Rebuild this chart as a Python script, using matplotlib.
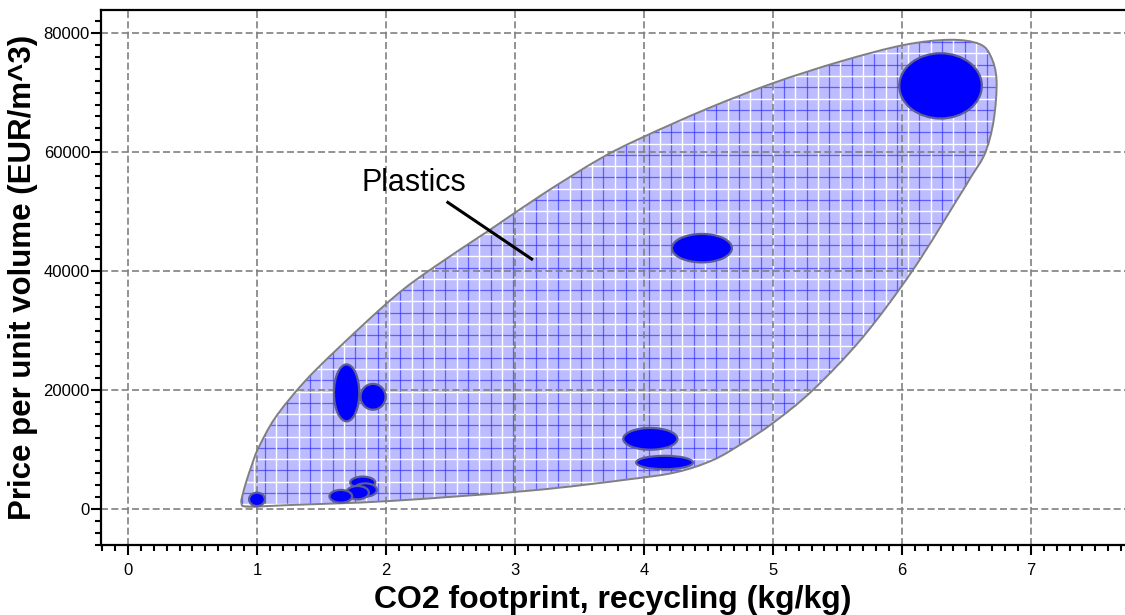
import matplotlib
matplotlib.use("Agg")
import matplotlib.pyplot as plt
import numpy as np
from matplotlib.patches import PathPatch, Ellipse
from matplotlib.path import Path
from matplotlib.ticker import MultipleLocator

plt.rcParams["font.family"] = ["Liberation Sans", "DejaVu Sans"]

# ---- data ----
# envelope outline for the "Plastics" family (x = CO2 kg/kg, y = EUR/m^3)
env_x = [0.88, 0.89, 0.92, 0.96, 1.01, 1.14, 1.36, 1.62, 2.06, 2.37, 2.81,
         3.22, 3.66, 3.97, 4.49, 5.00, 5.52, 6.01, 6.37, 6.60, 6.69, 6.734,
         6.712, 6.645, 6.535, 6.426, 6.085, 5.698, 5.31, 5.00, 4.767, 4.535,
         4.256, 3.89, 3.12, 2.03, 1.26, 0.93]
env_y = [1000, 2500, 4800, 7400, 10200, 15300, 21200, 26840, 35600, 40630,
         47000, 53000, 58900, 62300, 67300, 71600, 75230, 78000, 78900,
         78200, 76100, 72100, 65380, 59830, 55800, 51930, 40170, 28910,
         20000, 14450, 11090, 8230, 6220, 5010, 3100, 1350, 675, 390]

# individual materials: centre, width (kg/kg), height (EUR/m^3)
mat_x = [6.30, 4.45, 1.695, 1.90, 1.00, 1.82, 1.84, 1.78, 1.65, 4.05, 4.16]
mat_y = [71150, 43860, 19530, 18870, 1630, 4470, 3200, 2750, 2140, 11800, 7820]
mat_w = [0.64, 0.465, 0.196, 0.194, 0.122, 0.194, 0.18, 0.175, 0.176, 0.42, 0.44]
mat_h = [10970, 4780, 9570, 4340, 2250, 1960, 2250, 2250, 2140, 3660, 2250]

label_text = "Plastics"
label_pos = (2.22, 54790)
leader_start = (2.48, 51550)
leader_end = (3.13, 42030)

x_ticks = [0, 1, 2, 3, 4, 5, 6, 7]
y_ticks = [0, 20000, 40000, 60000, 80000]


def smooth_closed_path(xs, ys):
    """Closed path through the outline points, drawn as cubic Bezier pieces
    (Catmull-Rom tangents) so the envelope edge looks rounded."""
    p = np.column_stack([xs, ys]).astype(float)
    n = len(p)
    verts = [p[0]]
    codes = [Path.MOVETO]
    for i in range(n):
        p0, p1, p2, p3 = p[i - 1], p[i], p[(i + 1) % n], p[(i + 2) % n]
        c1 = p1 + (p2 - p0) / 6.0
        c2 = p2 - (p3 - p1) / 6.0
        verts += [c1, c2, p2]
        codes += [Path.CURVE4] * 3
    return Path(verts, codes)


# ---- figure ----
fig = plt.figure(figsize=(11.25, 6.15), dpi=100)
ax = fig.add_axes([0.0898, 0.1138, 0.9102, 0.8699])
ax.set_xlim(-0.209, 7.73)
ax.set_ylim(-6050, 83900)

env_path = smooth_closed_path(env_x, env_y)
env = PathPatch(env_path, facecolor="#bcbcff", edgecolor="none", zorder=1)
ax.add_patch(env)

# grid-like hatch inside the envelope (blue + white lines)
step_x = 0.175
step_y = 3790
wx = np.arange(4.124 - 30 * step_x, 8, step_x)
wy = np.arange(4588 - 3 * step_y, 85000, step_y)
blue_v = ax.vlines(wx + step_x / 2, -6000, 84000, color="#2020ff", lw=0.9,
                   alpha=0.6, zorder=1.1)
blue_h = ax.hlines(wy + step_y / 2, -1, 8, color="#2020ff", lw=0.9,
                   alpha=0.6, zorder=1.1)
white_v = ax.vlines(wx, -6000, 84000, color="white", lw=1.0, zorder=1.2)
white_h = ax.hlines(wy, -1, 8, color="white", lw=1.0, zorder=1.2)
for coll in (blue_v, blue_h, white_v, white_h):
    coll.set_clip_path(env)

outline = PathPatch(env_path, facecolor="none", edgecolor="#808080",
                    lw=1.4, zorder=1.3)
ax.add_patch(outline)

# material bubbles
for x, y, w, h in zip(mat_x, mat_y, mat_w, mat_h):
    ax.add_patch(Ellipse((x, y), w, h, facecolor="#0000ff",
                         edgecolor="#5c5c98", lw=1.6, zorder=3))

# label with leader line
ax.plot([leader_start[0], leader_end[0]], [leader_start[1], leader_end[1]],
        color="black", lw=2.2, zorder=4)
ax.text(label_pos[0], label_pos[1], label_text, fontsize=22, ha="center",
        va="center", zorder=5)

# ---- axes styling ----
ax.set_axisbelow("line")
ax.set_xticks(x_ticks)
ax.set_yticks(y_ticks)
ax.xaxis.set_minor_locator(MultipleLocator(0.1))
ax.yaxis.set_minor_locator(MultipleLocator(2000))
ax.grid(True, which="major", color="#808080", lw=1.2,
        linestyle=(0, (4.2, 2.0)))
ax.tick_params(which="major", direction="out", length=7, width=1.5,
               labelsize=12, colors="black")
ax.tick_params(which="minor", direction="out", length=4, width=1.5)
ax.tick_params(axis="x", pad=6)
ax.tick_params(axis="y", pad=1)

for side in ("left", "bottom", "top"):
    ax.spines[side].set_linewidth(1.6)
ax.spines["right"].set_visible(False)

ax.set_xlabel("CO2 footprint, recycling (kg/kg)", fontsize=23,
              fontweight="bold", labelpad=5)
ax.set_ylabel("Price per unit volume (EUR/m^3)", fontsize=22.5,
              fontweight="bold", labelpad=4)

fig.savefig("out.png", dpi=100)
